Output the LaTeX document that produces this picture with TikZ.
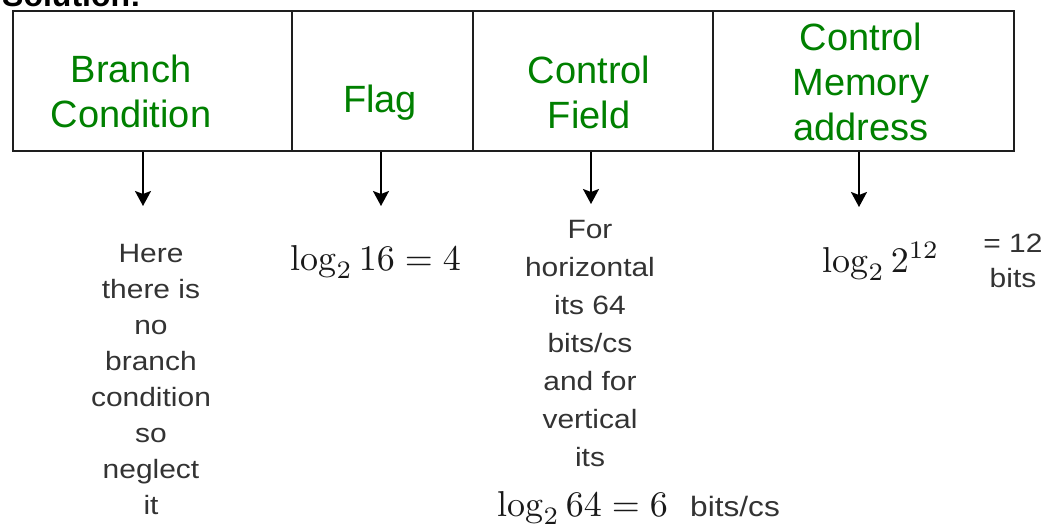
\documentclass[tikz,border=0pt]{standalone}
\usepackage[no-math]{fontspec}
\setmainfont{Liberation Sans}
\usepackage{graphicx}
\usetikzlibrary{arrows.meta}

\definecolor{fieldgreen}{RGB}{0,128,0}
\definecolor{notegray}{RGB}{51,51,51}
\definecolor{linegray}{RGB}{30,30,30}

% stacked, centred note lines, slightly widened
\newcommand{\notelines}[1]{\scalebox{1.13}[1]{\begin{tabular}[t]{@{}c@{}}#1\end{tabular}}}
% formulas set at 10pt and enlarged
\newcommand{\bigmath}[1]{\scalebox{3.6}{$#1$}}

\begin{document}
\begin{tikzpicture}[x=1pt,y=-1pt,
  cell/.style={draw=linegray, line width=2pt, rectangle, anchor=north west,
    minimum height=140pt, inner sep=0pt},
  head/.style={anchor=base, align=center, text=fieldgreen,
    font=\fontsize{38}{45}\selectfont},
  note/.style={anchor=base, inner sep=0pt, text=notegray,
    font=\fontsize{26.5}{36}\selectfont},
  formula/.style={anchor=base west, inner sep=0pt, text=black!90},
  pointer/.style={draw=black, line width=2pt,
    -{Stealth[length=15pt,width=16pt,inset=3pt]}}
]
\useasboundingbox (0,0) rectangle (1045,525);
\begin{scope}
\clip (0,0) rectangle (1045,525);

% heading cut by the top edge
\node[anchor=base west, inner sep=0pt, font=\fontsize{32}{38}\selectfont\bfseries]
  (sol) at (2,6) {Solution:};

% microinstruction format
\node[cell, minimum width=279pt] (bc) at (12,10) {};
\node[cell, minimum width=181pt] (fl) at (291,10) {};
\node[cell, minimum width=240pt] (cf) at (472,10) {};
\node[cell, minimum width=301pt] (cm) at (712,10) {};

% field names (base anchor sits on the last line)
\node[head] (tbc) at (131,127) {Branch\\Condition};
\node[head] (tfl) at (380,112) {Flag};
\node[head] (tcf) at (589,128) {Control\\Field};
\node[head] (tcm) at (861,140) {Control\\Memory\\address};

% pointers to the field sizes
\coordinate (p1) at (143,206);
\coordinate (p2) at (381,206);
\coordinate (p3) at (591,204);
\coordinate (p4) at (859,207);
\draw[pointer] (bc.south -| p1) -- (p1);
\draw[pointer] (fl.south -| p2) -- (p2);
\draw[pointer] (cf.south -| p3) -- (p3);
\draw[pointer] (cm.south -| p4) -- (p4);

% field sizes
\node[note] (nbc) at (151,262)
  {\notelines{Here\\there is\\no\\branch\\condition\\so\\neglect\\it}};
\node[formula] (nfl) at (290,270) {\bigmath{\log_2 16 = 4}};
\node[note, font=\fontsize{26.5}{38}\selectfont] (ncf) at (590,238)
  {\notelines{For\\horizontal\\its 64\\bits/cs\\and for\\vertical\\its}};
\node[formula] (ncf2) at (497,516) {\bigmath{\log_2 64 = 6}};
\node[note, anchor=base west, font=\fontsize{28}{36}\selectfont] (ncf3) at (690,516)
  {\notelines{bits/cs}};
\node[formula] (ncm) at (822,272) {\bigmath{\log_2 2^{12}}};
\node[note, font=\fontsize{26.5}{35}\selectfont] (ncm2) at (1013,252)
  {\notelines{= 12\\bits}};
\end{scope}
\end{tikzpicture}
\end{document}
